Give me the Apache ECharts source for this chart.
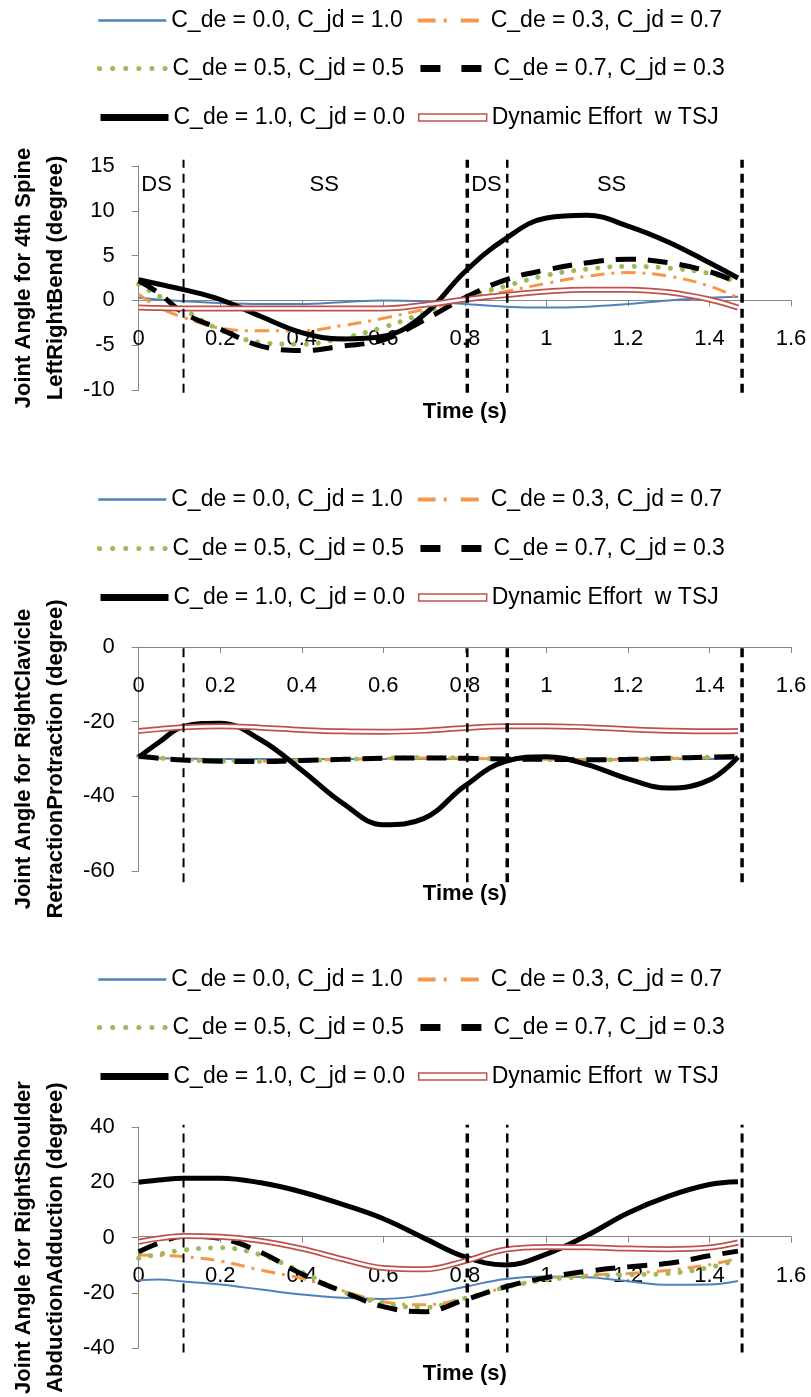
<!DOCTYPE html>
<html><head><meta charset="utf-8">
<script src="https://cdn.jsdelivr.net/npm/echarts@6/dist/echarts.min.js"></script>
<style>html,body{margin:0;padding:0;background:#fff}#c{width:811px;height:1397px}</style>
</head><body><div id="c"></div>
<script>
// ---- data ----
const time = [0, 0.05, 0.11, 0.2, 0.3, 0.4, 0.5, 0.6, 0.7, 0.8, 0.9, 1.0, 1.1, 1.2, 1.3, 1.4, 1.47];

const seriesNames = ['C_de = 0.0, C_jd = 1.0', 'C_de = 0.3, C_jd = 0.7', 'C_de = 0.5, C_jd = 0.5',
                     'C_de = 0.7, C_jd = 0.3', 'C_de = 1.0, C_jd = 0.0', 'Dynamic Effort  w TSJ'];

// Panel 1: 4th Spine LeftRightBend
const spine_c00 = [0.3, 0.1, -0.1, -0.3, -0.4, -0.4, -0.2, 0.0, -0.1, -0.4, -0.7, -0.8, -0.7, -0.4, 0.0, 0.3, 0.4];
const spine_c03 = [0.7, -0.8, -1.9, -3.1, -3.4, -3.4, -2.8, -2.0, -1.0, 0.0, 1.0, 1.9, 2.7, 3.1, 2.7, 1.6, 0.3];
const spine_c05 = [1.8, 0.5, -1.0, -3.3, -4.7, -4.9, -4.2, -3.0, -1.4, 0.3, 1.6, 2.8, 3.5, 3.8, 3.6, 3.0, 2.0];
const spine_c07 = [2.2, 0.8, -1.4, -3.2, -5.1, -5.6, -5.1, -4.4, -2.2, 0.3, 2.3, 3.4, 4.2, 4.6, 4.2, 3.2, 2.0];
const spine_c10 = [2.3, 1.8, 1.2, 0.1, -1.8, -3.6, -4.3, -4.0, -1.6, 3.2, 6.9, 9.2, 9.5, 8.3, 6.5, 4.2, 2.5];
const spine_dyn = [-0.8, -0.85, -0.9, -0.9, -0.9, -0.9, -0.9, -0.9, -0.5, 0.1, 0.6, 1.0, 1.2, 1.2, 0.9, 0.1, -0.8];

// Panel 2: RightClavicle RetractionProtraction
const clav_c00 = [-29.8, -29.8, -29.9, -30.0, -30.0, -30.0, -30.0, -30.0, -30.0, -30.0, -30.0, -30.0, -30.0, -30.0, -30.0, -30.0, -29.9];
const clav_c03 = [-29.4, -29.8, -30.2, -30.5, -30.6, -30.4, -30.1, -29.9, -29.7, -29.8, -30.0, -30.1, -30.2, -30.1, -29.9, -29.6, -29.4];
const clav_c05 = [-29.2, -29.7, -30.2, -30.6, -30.7, -30.4, -30.1, -29.8, -29.6, -29.7, -30.0, -30.2, -30.3, -30.1, -29.8, -29.5, -29.3];
const clav_c07 = [-29.2, -29.8, -30.3, -30.6, -30.7, -30.4, -30.1, -29.8, -29.7, -29.8, -30.0, -30.1, -30.2, -30.1, -29.8, -29.5, -29.3];
const clav_c10 = [-29.5, -25.5, -21.3, -20.4, -24.9, -33.0, -41.8, -47.6, -45.9, -37.2, -30.6, -29.4, -31.5, -35.3, -37.8, -35.6, -29.5];
const clav_dyn = [-22.5, -22.0, -21.5, -21.2, -21.6, -22.2, -22.6, -22.7, -22.4, -21.7, -21.2, -21.2, -21.5, -22.0, -22.4, -22.6, -22.5];

// Panel 3: RightShoulder AbductionAdduction
const shld_c00 = [-15.4, -15.2, -15.9, -17.0, -18.8, -20.6, -21.8, -22.2, -20.8, -17.8, -15.0, -14.1, -14.4, -15.8, -17.1, -17.0, -15.7];
const shld_c03 = [-6.3, -6.5, -6.9, -8.5, -11.8, -14.8, -19.2, -23.2, -24.3, -22.0, -18.0, -14.8, -13.6, -13.0, -11.8, -9.8, -7.5];
const shld_c05 = [-7.5, -6.0, -4.5, -3.7, -6.3, -12.5, -19.5, -23.8, -25.3, -22.0, -18.0, -15.3, -14.1, -13.5, -13.0, -10.8, -8.0];
const shld_c07 = [-5.1, -2.0, 0.5, -0.3, -5.4, -13.2, -19.5, -25.0, -26.8, -22.5, -17.8, -14.5, -12.2, -10.6, -9.3, -6.6, -4.9];
const shld_c10 = [20.0, 20.8, 21.5, 21.5, 19.8, 16.5, 12.0, 6.8, -0.2, -7.0, -9.9, -6.0, 0.8, 8.9, 15.0, 19.2, 20.2];
const shld_dyn = [-1.5, -0.3, 0.6, 0.3, -1.2, -4.0, -7.8, -11.0, -11.5, -8.5, -4.3, -3.4, -3.5, -4.0, -4.2, -3.6, -1.8];

// phase boundaries (vertical dashed lines) and labels
const phaseTimes = [0.11, 0.806, 0.904, 1.48];
const phaseLabels = ['DS', 'SS', 'DS', 'SS'];
const phaseLabelTimes = [0.044, 0.455, 0.853, 1.16];
const phaseLabelValue = 12.9;

// axis ranges
const yMin = [-10, -60, -40];
const yMax = [15, 0, 40];
const yStep = [5, 20, 20];
const vlineSpan = [[-10.3, 15.7], [-63, 0], [-41.6, 40.8]];
const yTitles = ['Joint Angle for 4th Spine\nLeftRightBend (degree)',
                 'Joint Angle for RightClavicle\nRetractionProtraction (degree)',
                 'Joint Angle for RightShoulder\nAbductionAdduction (degree)'];

// ---- chart ----
const FONT = 'Liberation Sans';
const panels = [
  [spine_c00, spine_c03, spine_c05, spine_c07, spine_c10, spine_dyn],
  [clav_c00, clav_c03, clav_c05, clav_c07, clav_c10, clav_dyn],
  [shld_c00, shld_c03, shld_c05, shld_c07, shld_c10, shld_dyn]
];
const gridTops = [166, 647, 1127];
const gridHeights = [224, 224, 223];
const xNameGap = [112, 247, 137];
const legendRowCenters = [[21, 69, 118], [500, 549, 598], [980, 1028, 1077]];
const vlineWidths = [[2, 3.5, 2.5, 3.5], [2, 2.5, 3.5, 3.5], [2, 3.5, 2.5, 3]];

const lineStyles = [
  {color: '#4F81BD', width: 2, type: 'solid'},
  {color: '#F79646', width: 3, type: [14, 7, 3, 7]},
  {color: '#9BBB59', width: 5, type: [0.1, 12], cap: 'round'},
  {color: '#000000', width: 5, type: [20, 12]},
  {color: '#000000', width: 5, type: 'solid'},
  {color: '#C0504D', width: 6, type: 'solid'}
];
const legendLineStyles = [
  {color: '#4F81BD', width: 2.5, type: 'solid'},
  {color: '#F79646', width: 4, type: [18, 8, 3, 14]},
  {color: '#9BBB59', width: 5, type: [0.1, 13], cap: 'round'},
  {color: '#000000', width: 7, type: [20, 21]},
  {color: '#000000', width: 7, type: 'solid'}
];

const pair = arr => time.map((t, i) => [t, arr[i]]);

const grid = [], xAxis = [], yAxis = [], series = [], legend = [];
panels.forEach((p, k) => {
  grid.push({left: 138, top: gridTops[k], width: 653, height: gridHeights[k]});
  // x axis crosses the y axis at value 0 (as in the original chart)
  const zeroOffset = -gridHeights[k] * (0 - yMin[k]) / (yMax[k] - yMin[k]);
  xAxis.push({
    gridIndex: k, type: 'value', min: 0, max: 1.6, interval: 0.2, position: 'bottom', offset: zeroOffset,
    axisLine: {onZero: false, lineStyle: {color: '#868686', width: 1}},
    axisTick: {length: 6, lineStyle: {color: '#868686'}},
    axisLabel: {margin: 28, fontSize: 22, color: '#000', fontFamily: FONT, showMinLabel: true, showMaxLabel: true},
    splitLine: {show: false},
    name: 'Time (s)', nameLocation: 'middle', nameGap: xNameGap[k],
    nameTextStyle: {fontWeight: 'bold', fontSize: 22, color: '#000', fontFamily: FONT, verticalAlign: 'middle'}
  });
  yAxis.push({
    gridIndex: k, type: 'value', min: yMin[k], max: yMax[k], interval: yStep[k],
    axisLine: {show: true, onZero: false, lineStyle: {color: '#868686', width: 1}},
    axisTick: {show: true, length: 7, lineStyle: {color: '#868686'}},
    axisLabel: {margin: 24, fontSize: 22, color: '#000', fontFamily: FONT},
    splitLine: {show: false},
    name: yTitles[k], nameLocation: 'middle', nameRotate: 90, nameGap: 93,
    nameTextStyle: {fontWeight: 'bold', fontSize: 22, color: '#000', fontFamily: FONT, lineHeight: 32,
                    align: 'center', verticalAlign: 'middle'}
  });
  p.forEach((arr, j) => {
    const ls = lineStyles[j];
    series.push({
      type: 'line', name: seriesNames[j], xAxisIndex: k, yAxisIndex: k,
      data: pair(arr), smooth: 0.4, symbol: 'none', silent: true,
      lineStyle: {color: ls.color, width: ls.width, type: ls.type, cap: ls.cap || 'butt'},
      itemStyle: {color: ls.color}
    });
  });
  // inner white of the double red line
  series.push({
    type: 'line', name: 'dyn-inner', xAxisIndex: k, yAxisIndex: k,
    data: pair(p[5]), smooth: 0.4, symbol: 'none', silent: true,
    lineStyle: {color: '#ffffff', width: 2.5}
  });
  // vertical phase lines
  phaseTimes.forEach((t, m) => {
    series.push({
      type: 'line', name: 'phase-' + m, xAxisIndex: k, yAxisIndex: k, clip: false,
      data: [[t, vlineSpan[k][0]], [t, vlineSpan[k][1]]], symbol: 'none', silent: true,
      lineStyle: {color: '#000', width: vlineWidths[k][m], type: [9, 6]}
    });
  });
  // legends (3 rows)
  const li = j => ({name: seriesNames[j], lineStyle: Object.assign({}, legendLineStyles[j],
                    {cap: legendLineStyles[j].cap || 'butt', opacity: 1})});
  const rows = [
    [li(0), li(1)],
    [li(2), li(3)],
    [li(4), {name: seriesNames[5], icon: 'rect',
      itemStyle: {opacity: 1, color: '#ffffff', borderColor: '#C0504D', borderWidth: 1.5}}]
  ];
  rows.forEach((r, ri) => {
    legend.push({
      data: r, left: 97, top: legendRowCenters[k][ri] - 12, padding: 0,
      itemWidth: 68, itemHeight: ri === 2 ? 7 : 14, itemGap: 13, selectedMode: false,
      itemStyle: {opacity: 0},
      textStyle: {fontSize: 23, color: '#000', fontFamily: FONT}
    });
  });
});

// DS / SS labels on the first panel, placed through the axes
series.push({
  type: 'custom', name: 'phase-labels', xAxisIndex: 0, yAxisIndex: 0, silent: true, clip: false,
  data: phaseLabels.map((n, i) => [phaseLabelTimes[i], phaseLabelValue]),
  renderItem: function (params, api) {
    const pt = api.coord([api.value(0), api.value(1)]);
    return {
      type: 'text', x: pt[0], y: pt[1],
      style: {text: phaseLabels[params.dataIndex], fill: '#000000', fontSize: 22, fontFamily: FONT,
              align: 'center', verticalAlign: 'middle'}
    };
  }
});

const chart = echarts.init(document.getElementById('c'), null, {renderer: 'canvas'});
chart.setOption({animation: false, backgroundColor: '#fff', grid, xAxis, yAxis, series, legend});
</script>
</body></html>
